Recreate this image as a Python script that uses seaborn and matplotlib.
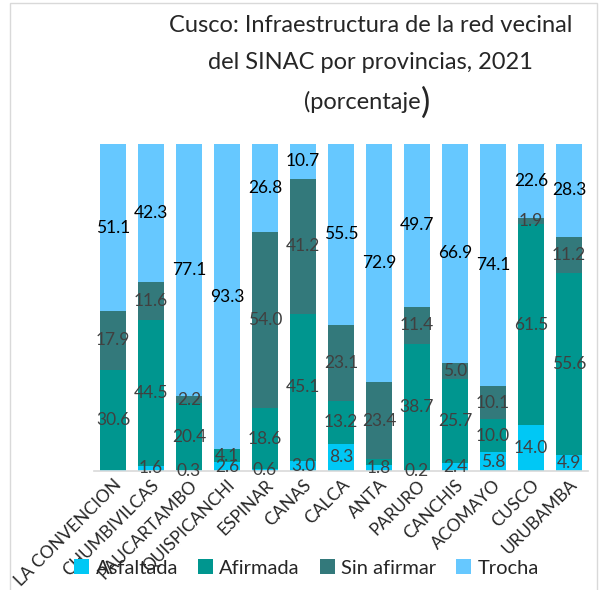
import numpy as np
import pandas as pd
import matplotlib
matplotlib.use("Agg")
import matplotlib.pyplot as plt
import seaborn as sns
from matplotlib.patches import Patch, Rectangle

provincias = ["LA CONVENCION", "CHUMBIVILCAS", "PAUCARTAMBO", "QUISPICANCHI", "ESPINAR",
              "CANAS", "CALCA", "ANTA", "PARURO", "CANCHIS", "ACOMAYO", "CUSCO", "URUBAMBA"]
asfaltada = [0.4, 1.6, 0.3, 2.6, 0.6, 3.0, 8.3, 1.8, 0.2, 2.4, 5.8, 14.0, 4.9]
afirmada = [30.6, 44.5, 20.4, 4.1, 18.6, 45.1, 13.2, 1.9, 38.7, 25.7, 10.0, 61.5, 55.6]
sin_afirmar = [17.9, 11.6, 2.2, 0.0, 54.0, 41.2, 23.1, 23.4, 11.4, 5.0, 10.1, 1.9, 11.2]
trocha = [51.1, 42.3, 77.1, 93.3, 26.8, 10.7, 55.5, 72.9, 49.7, 66.9, 74.1, 22.6, 28.3]

series = ["Asfaltada", "Afirmada", "Sin afirmar", "Trocha"]
colores = ["#00C8F5", "#00968F", "#33797B", "#66C8FF"]
# labels that are not shown in the original chart (provincia index, serie)
ocultos = {(0, "Asfaltada"), (7, "Afirmada"), (3, "Sin afirmar")}

sns.set_theme(style="white")
plt.rcParams["font.family"] = ["Lato", "DejaVu Sans"]

df = pd.DataFrame({"provincia": provincias, "Asfaltada": asfaltada, "Afirmada": afirmada,
                   "Sin afirmar": sin_afirmar, "Trocha": trocha})
cum = df[series].cumsum(axis=1)
for s in series:
    df["cum_" + s] = cum[s]

fig = plt.figure(figsize=(6.01, 5.90), dpi=100)
ax = fig.add_axes([94 / 601, (590 - 471) / 590, (588 - 94) / 601, 327 / 590])

for s, c in reversed(list(zip(series, colores))):
    sns.barplot(data=df, x="provincia", y="cum_" + s, color=c, saturation=1,
                width=0.68, linewidth=0, ax=ax)

for i in range(len(provincias)):
    base = 0
    for s in series:
        v = df.loc[i, s]
        if (i, s) not in ocultos:
            ax.text(i, base + v / 2, f"{v:.1f}", ha="center", va="center", fontsize=12.5,
                    color="black" if s == "Trocha" else "#404040")
        base += v

ax.set_ylim(0, 100)
ax.set_xlim(-0.5, len(provincias) - 0.5)
ax.set_xlabel("")
ax.set_ylabel("")
ax.set_yticks([])
for sp in ["top", "right", "left"]:
    ax.spines[sp].set_visible(False)
ax.spines["bottom"].set_color("#D9D9D9")
ax.spines["bottom"].set_linewidth(1.2)
ax.tick_params(axis="x", length=0, labelsize=12.5, pad=4)
plt.setp(ax.get_xticklabels(), rotation=45, ha="right", rotation_mode="anchor")

fig.text(0.616, 0.957, "Cusco: Infraestructura de la red vecinal", ha="center", va="center", fontsize=17)
fig.text(0.616, 0.894, "del SINAC por provincias, 2021", ha="center", va="center", fontsize=17)
t3 = fig.text(0.603, 0.828, "(porcentaje", ha="center", va="center", fontsize=17)
ax.annotate(")", xy=(1, 0.45), xycoords=t3, ha="left", va="center", fontsize=25)

manejadores = [Patch(facecolor=c, edgecolor="none") for c in colores]
fig.legend(manejadores, series, loc="center", bbox_to_anchor=(0.51, 0.037), ncol=4,
           frameon=False, fontsize=14.5, handlelength=0.75, handleheight=0.75,
           handletextpad=0.3, columnspacing=1.0)

fig.add_artist(Rectangle((10 / 601, -0.01), (597 - 10) / 601, (590 - 3) / 590 + 0.01,
                         transform=fig.transFigure, fill=False, edgecolor="#D9D9D9", lw=1))

fig.savefig("out.png", dpi=100)
